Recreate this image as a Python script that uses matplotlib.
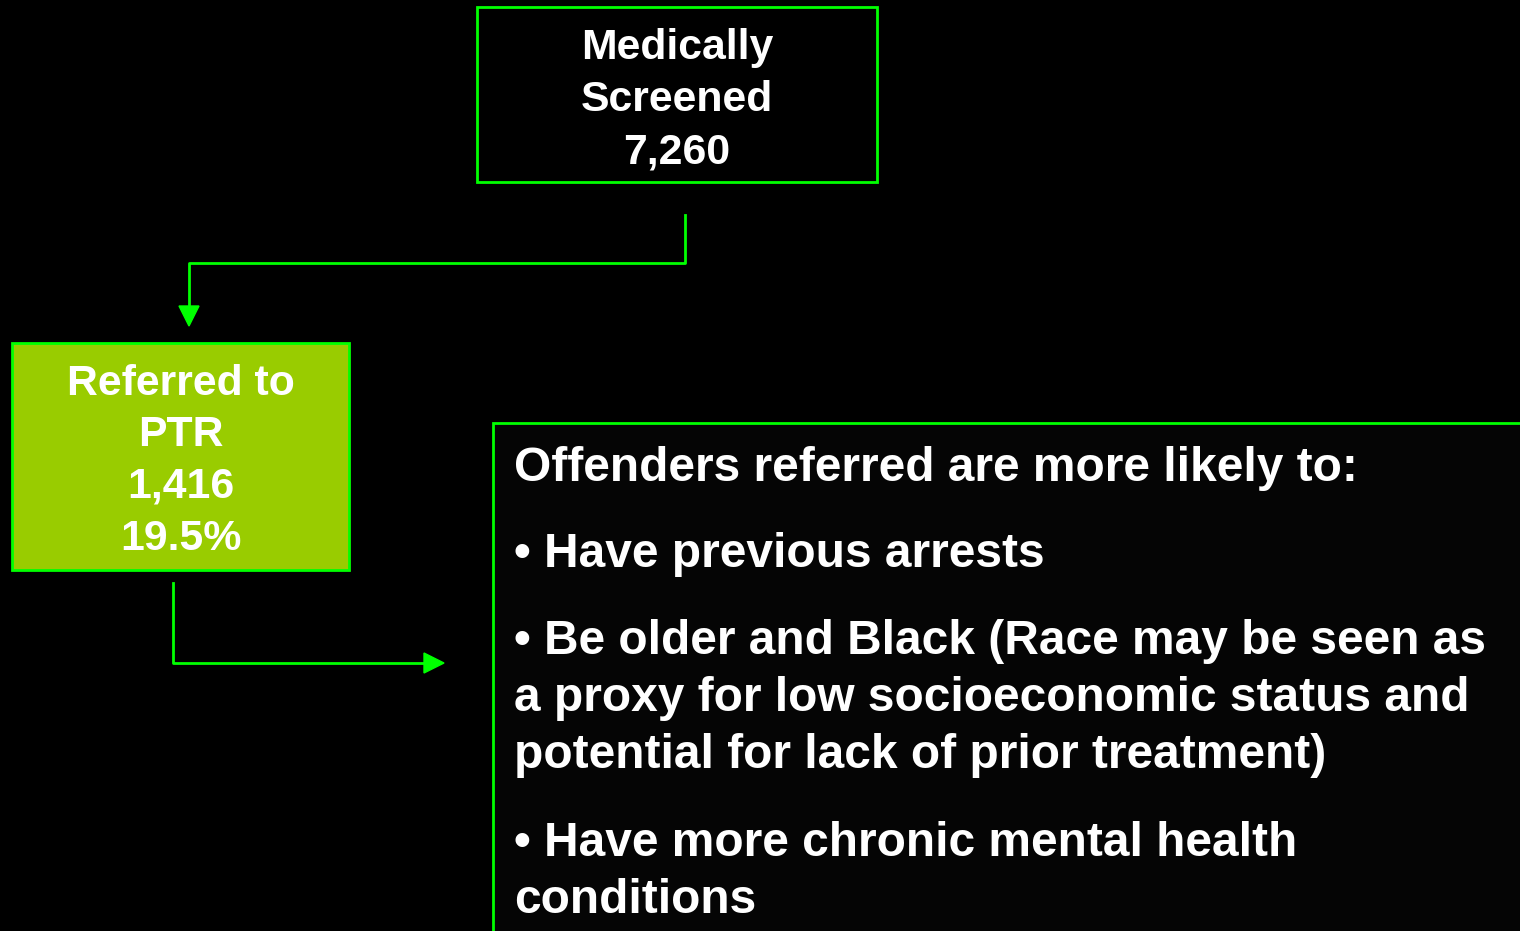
import matplotlib.pyplot as plt
from matplotlib.patches import Rectangle, Polygon

plt.rcParams['font.family'] = ['Liberation Sans', 'DejaVu Sans']

# box contents
screened_lines = ['Medically', 'Screened', '7,260']
referred_lines = ['Referred to', 'PTR', '1,416', '19.5%']
findings_lines = [
    'Offenders referred are more likely to:',
    '\u2022 Have previous arrests',
    '\u2022 Be older and Black (Race may be seen as',
    'a proxy for low socioeconomic status and',
    'potential for lack of prior treatment)',
    '\u2022 Have more chronic mental health',
    'conditions',
]
findings_baselines = [481, 567, 654, 711, 768, 856, 913]

GREEN = '#00FF00'
OLIVE = '#99CC00'

fig = plt.figure(figsize=(15.2, 9.31), dpi=100, facecolor='black')
ax = fig.add_axes([0, 0, 1, 1])
ax.set_xlim(0, 1520)
ax.set_ylim(931, 0)
ax.axis('off')
ax.set_facecolor('black')

# top box
ax.add_patch(Rectangle((477, 7), 400, 175, facecolor='black', edgecolor=GREEN, lw=2))
for i, t in enumerate(screened_lines):
    ax.text(677, 59 + i * 52, t, color='white', fontsize=30.8, fontweight='bold',
            ha='center', va='baseline')

# connector top -> left box
ax.plot([685, 685, 189, 189], [215, 263, 263, 308], color=GREEN, lw=2)
ax.add_patch(Polygon([[179, 306], [199, 306], [189, 326]], closed=True, color=GREEN))

# left box
ax.add_patch(Rectangle((12, 343), 337, 227, facecolor=OLIVE, edgecolor=GREEN, lw=2))
for i, t in enumerate(referred_lines):
    ax.text(181, 395 + i * 51.5, t, color='white', fontsize=30.8, fontweight='bold',
            ha='center', va='baseline')

# connector left box -> findings
ax.plot([173, 173, 426], [583, 663, 663], color=GREEN, lw=2)
ax.add_patch(Polygon([[424, 653], [424, 673], [444, 663]], closed=True, color=GREEN))

# findings box (runs off the page)
ax.add_patch(Rectangle((493, 423), 1100, 600, facecolor='#050505', edgecolor=GREEN, lw=2))
for t, yb in zip(findings_lines, findings_baselines):
    ax.text(514, yb, t, color='white', fontsize=34.5, fontweight='bold',
            ha='left', va='baseline')

fig.savefig('out.png', dpi=100, facecolor='black')
